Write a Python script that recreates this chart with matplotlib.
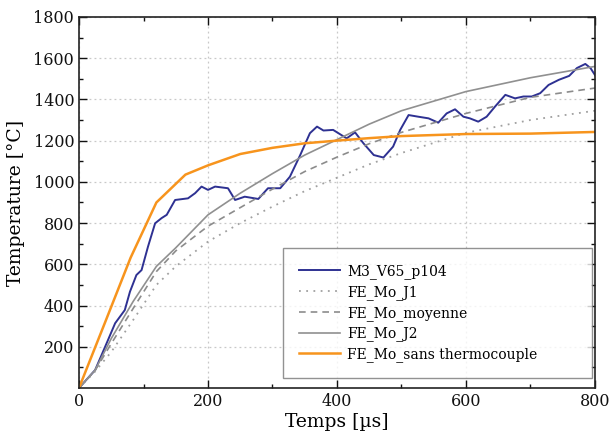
import matplotlib
matplotlib.use("Agg")
import matplotlib.pyplot as plt
from matplotlib.ticker import MultipleLocator

plt.rcParams["font.family"] = ["DejaVu Serif"]

# measured curve (blue)
t_meas = [0, 25, 45, 56, 71, 79, 89, 97, 107, 118, 128, 136, 149, 169, 180,
          190, 200, 211, 231, 242, 257, 278, 293, 312, 327, 343, 358, 369,
          379, 394, 415, 428, 441, 457, 472, 487, 498, 511, 526, 542, 557,
          570, 583, 596, 606, 619, 632, 645, 661, 676, 689, 702, 715, 728,
          744, 760, 772, 785, 793, 800]
T_meas = [0, 87, 233, 314, 378, 467, 548, 572, 686, 799, 824, 840, 912, 920,
          945, 977, 961, 977, 969, 912, 928, 917, 969, 969, 1025, 1130, 1236,
          1268, 1249, 1252, 1211, 1240, 1187, 1130, 1118, 1171, 1252, 1324,
          1316, 1308, 1287, 1332, 1352, 1316, 1308, 1292, 1316, 1365, 1422,
          1405, 1414, 1414, 1430, 1470, 1495, 1514, 1552, 1572, 1552, 1518]

# FE curves
t_fe = [0, 25, 50, 84, 120, 150, 200, 250, 300, 350, 400, 450, 500, 600, 700, 800]
T_j1 = [0, 80, 175, 330, 500, 590, 710, 800, 880, 955, 1020, 1085, 1140, 1238, 1300, 1345]
T_moy = [0, 85, 215, 386, 565, 665, 785, 875, 965, 1050, 1120, 1185, 1240, 1332, 1410, 1455]
T_j2 = [0, 87, 240, 420, 590, 680, 840, 945, 1040, 1130, 1205, 1280, 1345, 1438, 1505, 1560]

t_sans = [0, 40, 80, 120, 165, 200, 250, 300, 350, 400, 450, 500, 600, 700, 800]
T_sans = [0, 315, 632, 900, 1035, 1080, 1135, 1165, 1187, 1200, 1212, 1222, 1232, 1234, 1242]

fig = plt.figure(figsize=(6.11, 4.34), dpi=100)
ax = fig.add_axes([0.1293, 0.106, 0.8445, 0.855])

ax.plot(t_meas, T_meas, color="#2E3192", lw=1.4, label="M3_V65_p104")
ax.plot(t_fe, T_j1, color="#a0a0a0", lw=1.3, ls=(0, (1, 3)), label="FE_Mo_J1")
ax.plot(t_fe, T_moy, color="#8c8c8c", lw=1.2, ls=(0, (4, 3)), label="FE_Mo_moyenne")
ax.plot(t_fe, T_j2, color="#909090", lw=1.2, label="FE_Mo_J2")
ax.plot(t_sans, T_sans, color="#F7941D", lw=1.8, label="FE_Mo_sans thermocouple")

ax.set_xlim(0, 800)
ax.set_ylim(0, 1800)
ax.xaxis.set_major_locator(MultipleLocator(200))
ax.xaxis.set_minor_locator(MultipleLocator(100))
ax.set_yticks([200, 400, 600, 800, 1000, 1200, 1400, 1600, 1800])
ax.set_yticks([100, 300, 500, 700, 900, 1100, 1300, 1500, 1700], minor=True)
ax.grid(True, which="major", color="#c8c8c8", ls=(0, (1.5, 2.5)), lw=0.9)

ax.tick_params(which="both", direction="in", top=True, right=True,
               labelsize=11.5, width=1.0, colors="#111111")
ax.tick_params(which="major", length=6)
ax.tick_params(which="minor", length=3)
for s in ax.spines.values():
    s.set_linewidth(1.2)
    s.set_color("#222222")

ax.set_xlabel("Temps [µs]", fontsize=13.5, labelpad=2)
ax.set_ylabel("Temperature [°C]", fontsize=13.5, labelpad=6)

# legend box stretched like the original one
leg = ax.legend(loc="lower left", mode="expand", fontsize=10, frameon=True,
                fancybox=False, edgecolor="#777777", borderpad=1.15,
                labelspacing=0.42, handlelength=3.0, handletextpad=0.5,
                borderaxespad=0, bbox_to_anchor=(0.395, 0.027, 0.599, 0.35))
leg.get_frame().set_linewidth(1.0)

fig.savefig("out.png", dpi=100)
